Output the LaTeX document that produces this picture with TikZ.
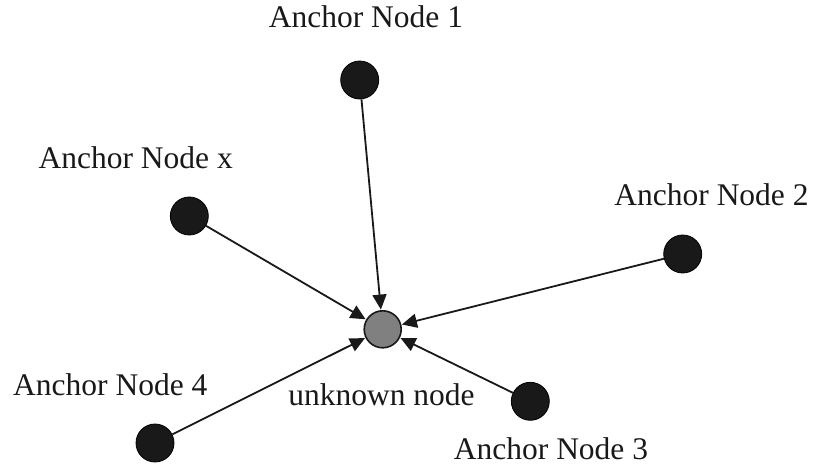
\documentclass[tikz,border=0pt]{standalone}
\usepackage{fontspec}
\setmainfont{Liberation Serif}
\usetikzlibrary{arrows.meta}
\begin{document}
\begin{tikzpicture}[x=1pt,y=-1pt,
  anchornode/.style={circle,fill=black!90,draw=black,line width=0.8pt,minimum size=38pt,inner sep=0pt},
  unknownnode/.style={circle,fill=black!50,draw=black!90,line width=1.6pt,minimum size=37pt,inner sep=0pt},
  lbl/.style={font=\fontsize{31.5}{36}\selectfont,anchor=base,inner sep=0pt,text=black!90},
  conn/.style={line width=1.8pt,draw=black!90,-{Triangle[length=15pt,width=14pt]},shorten >=0.5pt}]
\useasboundingbox (0,0) rectangle (813,470);
\node[anchornode] (a1) at (359.7,80) {};
\node[anchornode] (ax) at (189.3,216) {};
\node[anchornode] (a2) at (682.7,254) {};
\node[anchornode] (a3) at (530.3,401.3) {};
\node[anchornode] (a4) at (155,443) {};
\node[unknownnode] (u) at (382.7,329.3) {};
\node[lbl] (l1) at (366,28) {Anchor Node 1};
\node[lbl] (lx) at (135.7,169) {Anchor Node x};
\node[lbl] (l2) at (711.5,206) {Anchor Node 2};
\node[lbl] (l4) at (110.3,395) {Anchor Node 4};
\node[lbl] (l3) at (551,459) {Anchor Node 3};
\node[lbl] (lu) at (381.5,405) {unknown node};
\draw[conn] (a1) -- (u);
\draw[conn] (ax) -- (u);
\draw[conn] (a2) -- (u);
\draw[conn] (a3) -- (u);
\draw[conn] (a4) -- (u);
\end{tikzpicture}
\end{document}
